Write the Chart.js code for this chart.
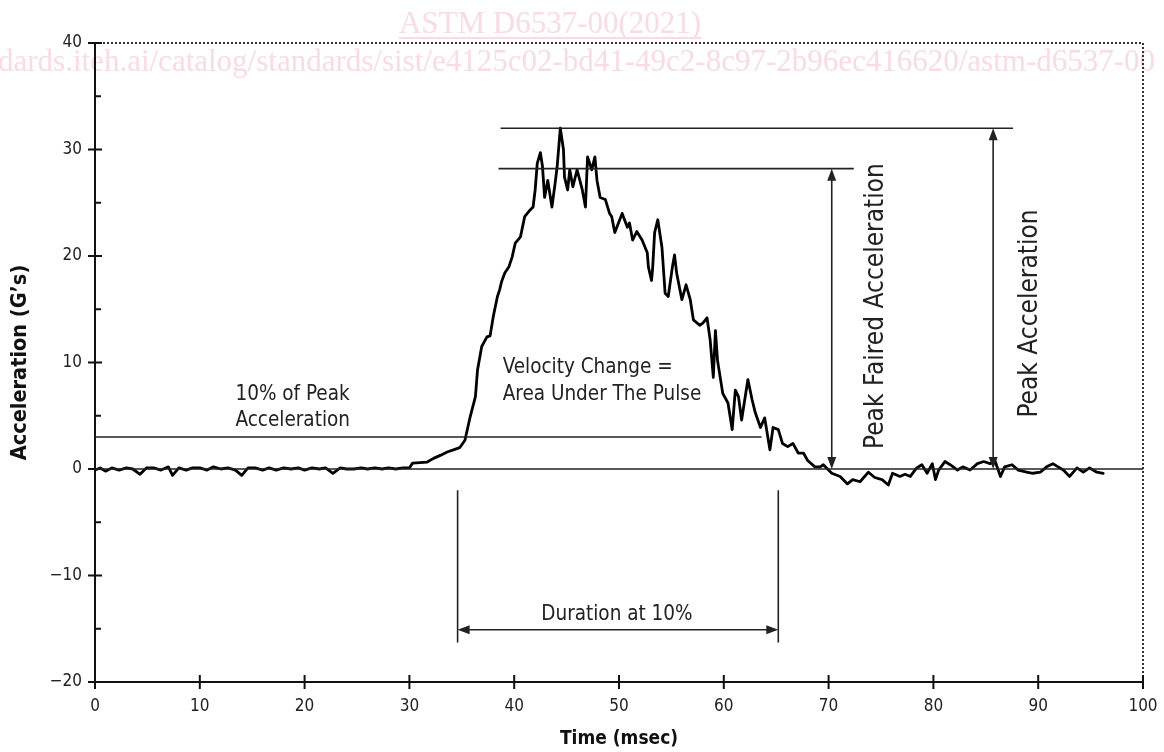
<!DOCTYPE html>
<html lang="en">
<head>
    <meta charset="UTF-8">
    <title>Shock pulse</title>
    <script src="https://cdn.jsdelivr.net/npm/chart.js"></script>
    <style>
        body { margin: 0; background: #fff; }
        canvas { display: block; }
    </style>
</head>
<body>
    <canvas id="pulse" width="1164" height="752"></canvas>
    <script>
        const timeMs = [
            0, 0.5, 1, 1.6, 2.3, 3, 3.6, 4.3, 4.9, 5.6, 6.3, 7, 7.4, 8, 8.7, 9.3, 10, 10.7, 11.3, 12,
            12.7, 13.4, 14, 14.6, 15.3, 16, 16.6, 17.3, 18, 18.7, 19.4, 20, 20.7, 21.4, 22, 22.7, 23.4, 24,
            24.7, 25.4, 26, 26.7, 27.4, 28, 28.7, 29.4, 30,
            30.3, 31, 31.7, 32.3, 33, 33.6, 34.2, 34.8, 35.3, 35.8, 36.3, 36.5, 36.9, 37.4, 37.7, 38, 38.4,
            38.6, 38.8, 39.1, 39.5, 39.8, 40.1, 40.6, 41, 41.5, 41.8, 42, 42.2, 42.5, 42.7, 42.9, 43.2, 43.6,
            43.9, 44.1, 44.4, 44.7, 44.8, 45.1, 45.3, 45.6, 46, 46.5, 46.8, 47, 47.4, 47.7, 47.9, 48.2, 48.7,
            49.1, 49.3, 49.6, 50.3, 50.8, 51, 51.3, 51.7, 52.2, 52.7, 52.8, 53.1, 53.2, 53.4, 53.7, 54.1,
            54.4, 54.7, 55.1, 55.3, 55.5, 56, 56.4, 56.8, 57.1, 57.7, 58, 58.4, 58.7, 59, 59.2, 59.4, 59.9,
            60.4, 60.8, 61.1, 61.4, 61.7, 62, 62.3, 62.7, 63, 63.5, 63.9, 64.4, 64.7, 65.2, 65.6, 66.1, 66.6,
            67.1, 67.6, 68, 68.7, 69.2, 69.5, 70.3, 71.1, 71.8, 72.3, 73, 73.8, 74.4, 75.1, 75.7, 76.1, 76.8,
            77.3, 77.8, 78.4, 78.9, 79.4, 79.9, 80.2, 80.5, 81.1, 81.6, 82.3, 82.8, 83.5, 84.2, 84.8, 85.4,
            85.9, 86.4, 86.8, 87.5, 88.1, 88.9, 89.5, 90.2, 90.8, 91.4, 91.9, 92.4, 93, 93.7, 94.3, 94.9,
            95.6, 96.2
        ];
        const accelG = [
            -0.1, 0.1, -0.2, 0.1, -0.1, 0.1, 0, -0.5, 0.1, 0.1, -0.1, 0.2, -0.6, 0.1, -0.1, 0.1, 0.1, -0.1, 0.2, 0,
            0.1, -0.1, -0.6, 0.1, 0.1, -0.1, 0.1, -0.1, 0.1, 0, 0.1, -0.1, 0.1, 0, 0.1, -0.4, 0.1, 0,
            0, 0.1, 0, 0.1, 0, 0.1, 0, 0.1, 0.1,
            0.55, 0.6, 0.65, 1.0, 1.3, 1.6, 1.8, 2.0, 2.7, 4.9, 6.8, 9.3, 11.5, 12.4, 12.5, 14.3, 16.2,
            16.8, 17.6, 18.4, 19.0, 19.9, 21.2, 21.8, 23.7, 24.3, 24.6, 26.2, 28.7, 29.7, 28.4, 25.5, 27.1, 24.6,
            26.8, 28.4, 32.0, 30.0, 27.4, 26.2, 28.1, 26.5, 28.1, 26.2, 24.6, 29.3, 28.1, 29.3, 27.1, 25.5, 25.3,
            24.0, 23.7, 22.2, 24.0, 22.7, 23.1, 21.5, 22.3, 21.5, 20.3, 19.0, 17.7, 18.7, 22.2, 23.4, 20.8,
            16.5, 16.2, 19.0, 20.1, 18.4, 15.9, 17.3, 15.9, 14.0, 13.5, 13.7, 14.2, 12.1, 8.6, 13.0, 10.2, 7.1,
            6.2, 3.7, 7.4, 6.8, 4.6, 6.5, 8.4, 6.5, 5.3, 3.9, 4.8, 1.8, 3.9, 3.7, 2.4, 2.1, 2.4,
            1.5, 1.5, 0.8, 0.2, 0.2, 0.4, -0.4, -0.7, -1.4, -1.0, -1.2, -0.3, -0.8, -1.0, -1.5, -0.4, -0.7,
            -0.5, -0.7, 0.1, 0.4, -0.4, 0.5, -1.0, -0.1, 0.7, 0.4, -0.1, 0.2, -0.1, 0.5, 0.7, 0.5,
            0.7, -0.7, 0.2, 0.4, -0.1, -0.3, -0.4, -0.3, 0.2, 0.5, 0.2, -0.1, -0.7, 0.1, -0.3, 0.1,
            -0.3, -0.4
        ];

        // reference levels (G's) and time markers (msec) for the annotations
        const peakG = 32.0;
        const fairedPeakG = 28.2;
        const tenPctG = 3.0;
        const durationStart = 34.6;
        const durationEnd = 65.2;
        const fairedArrowAt = 70.3;
        const peakArrowAt = 85.7;

        const FONT = '"DejaVu Sans Condensed", "Noto Sans", sans-serif';
        const INK = '#222';

        function arrowHead(ctx, x, y, dir) {
            // dir: 'up' | 'down' | 'left' | 'right', tip at (x, y)
            const L = 12, W = 4.5;
            ctx.beginPath();
            ctx.moveTo(x, y);
            if (dir === 'up') { ctx.lineTo(x - W, y + L); ctx.lineTo(x + W, y + L); }
            if (dir === 'down') { ctx.lineTo(x - W, y - L); ctx.lineTo(x + W, y - L); }
            if (dir === 'left') { ctx.lineTo(x + L, y - W); ctx.lineTo(x + L, y + W); }
            if (dir === 'right') { ctx.lineTo(x - L, y - W); ctx.lineTo(x - L, y + W); }
            ctx.closePath();
            ctx.fill();
        }

        function hLine(ctx, xs, x0, x1, yPix) {
            ctx.beginPath();
            ctx.moveTo(xs.getPixelForValue(x0), yPix);
            ctx.lineTo(xs.getPixelForValue(x1), yPix);
            ctx.stroke();
        }

        const watermark = {
            id: 'watermark',
            beforeDraw(chart) {
                const ctx = chart.ctx;
                ctx.save();
                ctx.fillStyle = '#fadbe4';
                ctx.strokeStyle = '#fadbe4';
                ctx.font = '31px "Liberation Serif", serif';
                ctx.textBaseline = 'alphabetic';
                ctx.textAlign = 'center';
                const t1 = 'ASTM D6537-00(2021)';
                ctx.fillText(t1, 550, 33);
                const w1 = ctx.measureText(t1).width;
                ctx.lineWidth = 2;
                ctx.beginPath();
                ctx.moveTo(550 - w1 / 2, 38);
                ctx.lineTo(550 + w1 / 2, 38);
                ctx.stroke();
                ctx.textAlign = 'left';
                ctx.fillText('dards.iteh.ai/catalog/standards/sist/e4125c02-bd41-49c2-8c97-2b96ec416620/astm-d6537-00', -2, 71);
                ctx.restore();
            }
        };

        const frameAndNotes = {
            id: 'frameAndNotes',
            afterDatasetsDraw(chart) {
                const ctx = chart.ctx;
                const xs = chart.scales.x, ys = chart.scales.y;
                const a = chart.chartArea;
                ctx.save();

                // dotted top and right frame
                ctx.strokeStyle = '#333';
                ctx.lineWidth = 2;
                ctx.setLineDash([2, 2]);
                ctx.beginPath();
                ctx.moveTo(a.left, a.top);
                ctx.lineTo(a.right, a.top);
                ctx.lineTo(a.right, a.bottom);
                ctx.stroke();
                ctx.setLineDash([]);

                // tick marks: majors cross the axis, y minors inside only
                ctx.strokeStyle = '#111';
                ctx.lineWidth = 2;
                ctx.beginPath();
                xs.ticks.forEach(t => {
                    const px = xs.getPixelForValue(t.value);
                    ctx.moveTo(px, a.bottom - 7);
                    ctx.lineTo(px, a.bottom + 7);
                });
                ys.ticks.forEach(t => {
                    const py = ys.getPixelForValue(t.value);
                    ctx.moveTo(a.left - 7, py);
                    ctx.lineTo(a.left + 7, py);
                    const pm = ys.getPixelForValue(t.value + 5);
                    if (t.value + 5 < ys.max) {
                        ctx.moveTo(a.left, pm);
                        ctx.lineTo(a.left + 6, pm);
                    }
                });
                ctx.stroke();

                // reference lines
                ctx.strokeStyle = INK;
                ctx.fillStyle = INK;
                ctx.lineWidth = 1.6;
                hLine(ctx, xs, 0, 100, ys.getPixelForValue(0));
                hLine(ctx, xs, 0, 63.6, ys.getPixelForValue(tenPctG));
                hLine(ctx, xs, 38.7, 87.6, ys.getPixelForValue(peakG));
                hLine(ctx, xs, 38.5, 72.4, ys.getPixelForValue(fairedPeakG));

                // vertical double arrows
                [[fairedArrowAt, fairedPeakG], [peakArrowAt, peakG]].forEach(([t, g]) => {
                    const px = xs.getPixelForValue(t);
                    const top = ys.getPixelForValue(g), bot = ys.getPixelForValue(0);
                    ctx.beginPath();
                    ctx.moveTo(px, top + 4);
                    ctx.lineTo(px, bot - 4);
                    ctx.stroke();
                    arrowHead(ctx, px, top, 'up');
                    arrowHead(ctx, px, bot, 'down');
                });

                // duration bracket
                const d0 = xs.getPixelForValue(durationStart), d1 = xs.getPixelForValue(durationEnd);
                const yTop = ys.getPixelForValue(-2), yBot = ys.getPixelForValue(-16.3);
                const yArr = ys.getPixelForValue(-15.1);
                ctx.beginPath();
                ctx.moveTo(d0, yTop); ctx.lineTo(d0, yBot);
                ctx.moveTo(d1, yTop); ctx.lineTo(d1, yBot);
                ctx.moveTo(d0 + 4, yArr); ctx.lineTo(d1 - 4, yArr);
                ctx.stroke();
                arrowHead(ctx, d0, yArr, 'left');
                arrowHead(ctx, d1, yArr, 'right');

                // labels
                ctx.fillStyle = INK;
                ctx.textBaseline = 'middle';
                ctx.font = '20.5px ' + FONT;
                ctx.textAlign = 'left';
                ctx.fillText('10% of Peak', xs.getPixelForValue(13.4), ys.getPixelForValue(6.95));
                ctx.fillText('Acceleration', xs.getPixelForValue(13.4), ys.getPixelForValue(4.5));
                ctx.fillText('Velocity Change =', xs.getPixelForValue(38.9), ys.getPixelForValue(9.5));
                ctx.fillText('Area Under The Pulse', xs.getPixelForValue(38.9), ys.getPixelForValue(7.0));
                ctx.textAlign = 'center';
                ctx.fillText('Duration at 10%', xs.getPixelForValue(49.8), ys.getPixelForValue(-13.7));

                ctx.font = '26px ' + FONT;
                [['Peak Faired Acceleration', 74.5, 15.3], ['Peak Acceleration', 89.2, 14.6]].forEach(([txt, t, g]) => {
                    ctx.save();
                    ctx.translate(xs.getPixelForValue(t), ys.getPixelForValue(g));
                    ctx.rotate(-Math.PI / 2);
                    ctx.fillText(txt, 0, 0);
                    ctx.restore();
                });

                ctx.restore();
            }
        };

        new Chart(document.getElementById('pulse').getContext('2d'), {
            type: 'line',
            data: {
                datasets: [{
                    data: timeMs.map((t, i) => ({ x: t, y: accelG[i] })),
                    borderColor: '#000',
                    borderWidth: 2.8,
                    borderJoinStyle: 'round',
                    borderCapStyle: 'round',
                    pointRadius: 0,
                    tension: 0,
                    fill: false
                }]
            },
            options: {
                responsive: false,
                animation: false,
                layout: { padding: { left: 8, top: 43, right: 21, bottom: 2 } },
                plugins: { legend: { display: false }, tooltip: { enabled: false } },
                scales: {
                    x: {
                        type: 'linear',
                        min: 0, max: 100,
                        grid: { display: false, drawTicks: false },
                        border: { display: true, color: '#111', width: 2 },
                        ticks: { stepSize: 10, padding: 14, color: INK, font: { family: FONT, size: 17 } },
                        title: { display: true, text: 'Time (msec)', color: '#111', padding: { top: 4, bottom: 0 }, font: { family: FONT, size: 19, weight: 'bold' } },
                        afterFit(s) { s.height = 68; s.paddingLeft = 0; s.paddingRight = 0; }
                    },
                    y: {
                        min: -20, max: 40,
                        grid: { display: false, drawTicks: false },
                        border: { display: true, color: '#111', width: 2 },
                        ticks: {
                            stepSize: 10, padding: 13, color: INK, font: { family: FONT, size: 17 },
                            callback: v => String(v).replace('-', '\u2212')
                        },
                        title: { display: true, text: 'Acceleration (G\u2019s)', color: '#111', padding: { top: 0, bottom: 0 }, font: { family: FONT, size: 21.5, weight: 'bold' } },
                        afterFit(s) { s.width = 87; s.paddingTop = 0; s.paddingBottom = 0; }
                    }
                }
            },
            plugins: [watermark, frameAndNotes]
        });
    </script>
</body>
</html>
